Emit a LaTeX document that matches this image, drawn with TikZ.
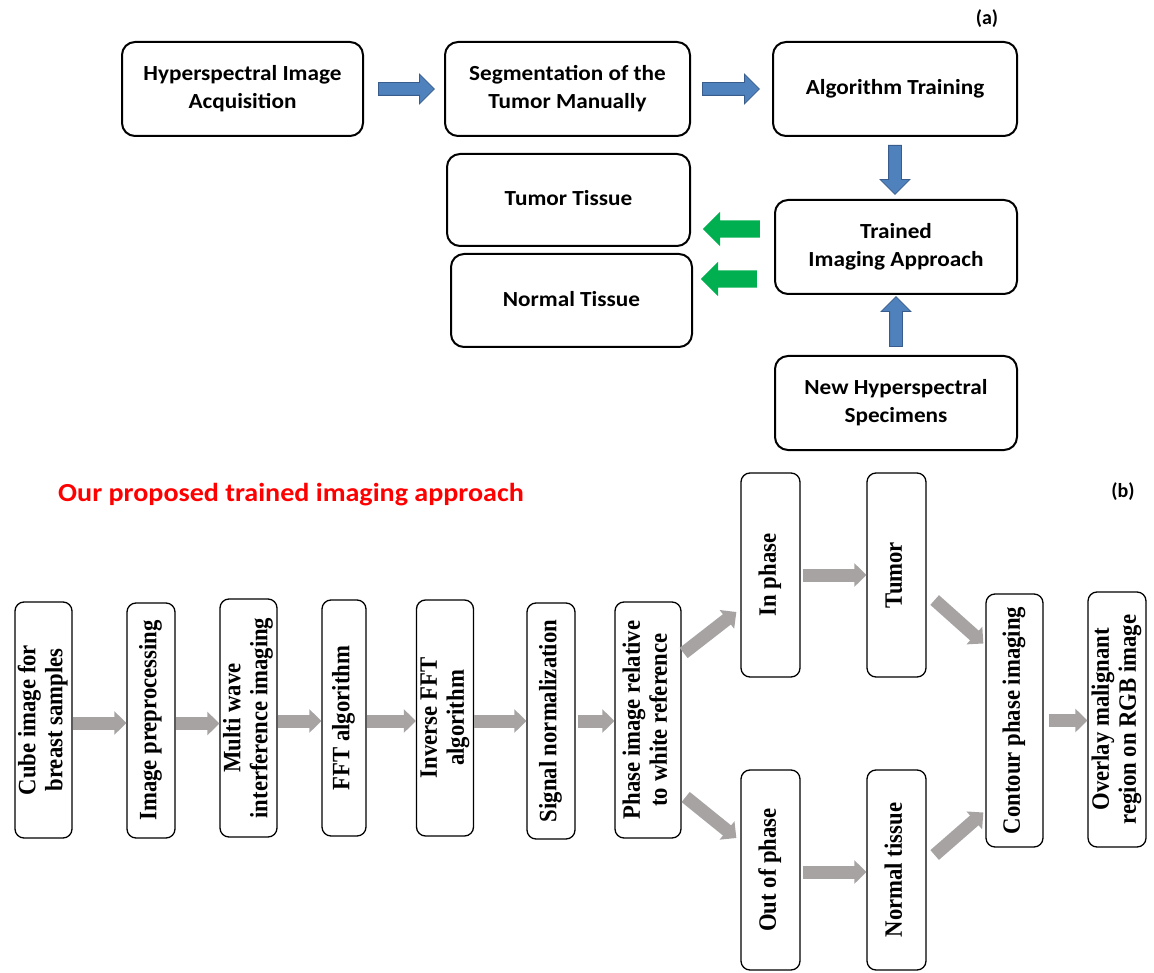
\documentclass[tikz,border=0pt]{standalone}
\usepackage{fontspec}
\usepackage{graphicx}
\usetikzlibrary{arrows.meta,shapes.arrows,calc}
\newfontfamily\calfont{Carlito}
\newfontfamily\tmsfont{Liberation Serif}
\definecolor{arrgray}{RGB}{167,163,163}
\definecolor{bfill}{RGB}{79,129,189}
\definecolor{bedge}{RGB}{56,93,140}
\definecolor{gfill}{RGB}{0,176,80}
\definecolor{titlered}{RGB}{255,0,0}
\newcommand\vtext[1]{\scalebox{1.1}[1]{\rotatebox{90}{\begin{tabular}{@{}c@{}}#1\end{tabular}}}}
\newcommand\htext[1]{\scalebox{1.08}[1]{\begin{tabular}{@{}c@{}}#1\end{tabular}}}
\begin{document}
\begin{tikzpicture}[x=1pt,y=-1pt,
  bx/.style 2 args={minimum width=#1pt, minimum height=#2pt},
  topbox/.style={draw, line width=2pt, rounded corners=13pt, inner sep=0pt,
    font=\calfont\bfseries\fontsize{21.5}{28}\selectfont},
  vbox/.style={draw, line width=1.3pt, rounded corners=9pt, inner sep=0pt,
    font=\tmsfont\bfseries\fontsize{22.7}{24.5}\selectfont},
  garr/.style={draw=arrgray, color=arrgray, line width=13pt, -{Triangle[width=23pt,length=12pt]}},
  barr/.style={single arrow, draw=bedge, fill=bfill, line width=0.8pt, inner sep=6pt,
    minimum width=0pt, single arrow head extend=8.5pt, single arrow head indent=0pt,
    minimum height=#1, anchor=tail},
  grarr/.style={single arrow, fill=gfill, inner sep=8.5pt,
    minimum width=0pt, single arrow head extend=8.5pt, single arrow head indent=0pt,
    minimum height=#1, anchor=tail},
  lbl/.style={font=\calfont\bfseries\fontsize{20}{24}\selectfont, inner sep=0pt}
]
\useasboundingbox (0,0) rectangle (1154,973);

% ---------- (a) ----------
\node[lbl] (la) at (987,19) {(a)};
\node[topbox, bx={241}{94}] (acq) at (242.5,89) {\htext{Hyperspectral Image\\Acquisition}};
\node[topbox, bx={245}{94}] (seg) at (567.5,89) {\htext{Segmentation of the\\Tumor Manually}};
\node[topbox, bx={244}{94}] (train) at (895,89) {\htext{Algorithm Training}};
\node[topbox, bx={243}{92}] (tumT) at (568.5,200) {\htext{Tumor Tissue}};
\node[topbox, bx={241}{93}] (normT) at (571.5,300.5) {\htext{Normal Tissue}};
\node[topbox, bx={242}{94}] (trained) at (896,247) {\htext{Trained\\Imaging Approach}};
\node[topbox, bx={242}{94}] (newspec) at (896,403) {\htext{New Hyperspectral\\Specimens}};

\node[barr=56pt] (a1) at ($(acq.east)+(14,0)$) {};
\node[barr=57pt] (a2) at ($(seg.east)+(11,0)$) {};
\node[barr=49pt, shape border rotate=270] (a3) at ($(train.south)+(0,8)$) {};
\node[barr=50pt, shape border rotate=90] (a4) at ($(newspec.north)+(0,-8)$) {};
\node[grarr=57pt, shape border rotate=180] (g1) at ($(trained.west)+(-14,-18)$) {};
\node[grarr=56pt, shape border rotate=180] (g2) at ($(trained.west)+(-17,32)$) {};

% ---------- (b) ----------
\node[font=\calfont\bfseries\fontsize{26}{30}\selectfont, text=titlered, inner sep=0pt] (title) at (291,495) {\scalebox{1.08}[1]{Our proposed trained imaging approach}};
\node[lbl] (lb) at (1123,492) {(b)};

\node[vbox, bx={57}{236}] (cube) at (43.5,720) {\vtext{Cube image for\\breast samples}};
\node[vbox, bx={48}{235}] (prep) at (151,720.5) {\vtext{Image preprocessing}};
\node[vbox, bx={57}{238}] (multi) at (248.5,718) {\vtext{Multi wave\\interference imaging}};
\node[vbox, bx={44}{236}] (fft) at (344,718) {\vtext{FFT algorithm}};
\node[vbox, bx={57}{236}] (ifft) at (445,718) {\vtext{Inverse FFT\\algorithm}};
\node[vbox, bx={48}{236}] (signal) at (551,721) {\vtext{Signal normalization}};
\node[vbox, bx={66}{236}] (phase) at (648,720) {\vtext{Phase image relative\\to white reference}};
\node[vbox, bx={59}{204}] (inph) at (770.5,575) {\vtext{In phase}};
\node[vbox, bx={59}{204}] (tumor) at (896.5,575) {\vtext{Tumor}};
\node[vbox, bx={59}{200}] (outph) at (770.5,870) {\vtext{Out of phase}};
\node[vbox, bx={59}{200}] (normal) at (896.5,870) {\vtext{Normal tissue}};
\node[vbox, bx={57}{253}] (contour) at (1014.5,720.5) {\vtext{Contour phase imaging}};
\node[vbox, bx={58}{255}] (overlay) at (1117,719.5) {\vtext{Overlay malignant\\region on RGB image}};

\draw[garr] ([yshift=-3pt]cube.east) -- ([yshift=-3pt]cube.east -| prep.west);
\draw[garr] ([yshift=-3pt]prep.east) -- ([yshift=-3pt]prep.east -| multi.west);
\draw[garr] ([yshift=-3pt]multi.east) -- ([yshift=-3pt]multi.east -| fft.west);
\draw[garr] ([yshift=-3pt]fft.east) -- ([yshift=-3pt]fft.east -| ifft.west);
\draw[garr] ([yshift=-3pt]ifft.east) -- ([yshift=-3pt]ifft.east -| signal.west);
\draw[garr] ([xshift=2pt]signal.east) -- (signal.east -| phase.west);
\draw[garr] ([xshift=2pt,yshift=67pt]phase.east) -- ([xshift=-4pt,yshift=-37pt]inph.west);
\draw[garr] ([xshift=4pt,yshift=-77pt]phase.east) -- ([xshift=-4pt,yshift=32pt]outph.west);
\draw[garr] ([xshift=2pt]inph.east) -- (inph.east -| tumor.west);
\draw[garr] ([xshift=2pt,yshift=-2pt]outph.east) -- ([yshift=-2pt]outph.east -| normal.west);
\draw[garr] ([xshift=8pt,yshift=-25pt]tumor.east) -- ([xshift=-2pt,yshift=77pt]contour.west);
\draw[garr] ([xshift=8pt,yshift=15pt]normal.east) -- ([xshift=-2pt,yshift=-92pt]contour.west);
\draw[garr] ([xshift=5pt]contour.east) -- (contour.east -| overlay.west);
\end{tikzpicture}
\end{document}
